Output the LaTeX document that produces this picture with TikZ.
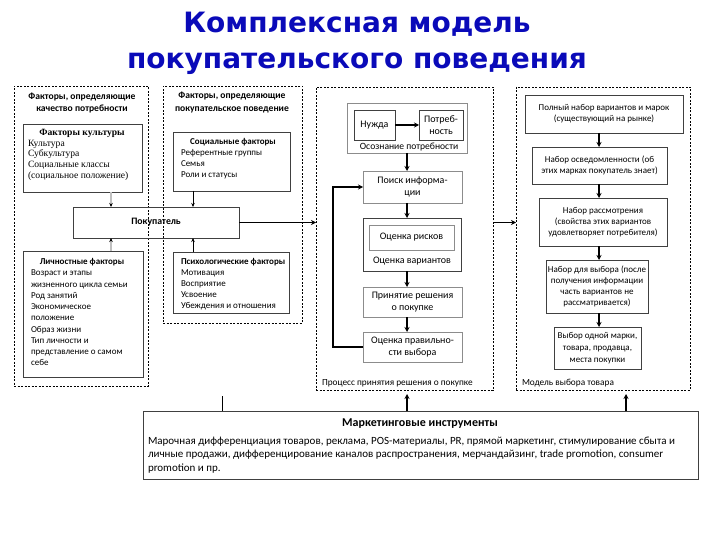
\documentclass[tikz,border=0pt]{standalone}
\usepackage{fontspec}
\setmainfont{Carlito}
\newfontfamily\titlefont{DejaVu Sans}
\newfontfamily\culturefont{Liberation Serif}
\usetikzlibrary{arrows.meta}
\definecolor{titleblue}{RGB}{10,10,185}
\newcommand\mkbox[7]{\node[#2, anchor=north west, minimum width={(#5-#3)*1pt}, minimum height={(#6-#4)*1pt}] (#1) at (#3,#4) {#7};}
\begin{document}
\begin{tikzpicture}[x=1pt,y=-1pt,
  every node/.style={inner sep=0pt, outer sep=0pt, font=\fontsize{9}{11}\selectfont, align=center},
  box/.style={draw=black!75, line width=0.8pt},
  gbox/.style={draw=black!45, line width=0.9pt},
  outer/.style={draw=black, line width=0.7pt, dash pattern=on 2pt off 1.5pt},
  arr/.style={-{Stealth[length=5pt,width=5pt]}, line width=1.6pt},
  tarr/.style={-{Stealth[length=4pt,width=3.5pt]}, line width=0.6pt},
  garr/.style={draw=black!25, line width=1.3pt, -{Stealth[length=4pt,width=3.5pt,black]}},
  lst/.style={align=left, anchor=west},
  mid/.style={font=\fontsize{10}{12}\selectfont},
  ttl/.style={font=\bfseries\fontsize{9.6}{12.5}\selectfont}
]
\useasboundingbox (0,0) rectangle (720,540);
% title
\node[font=\titlefont\bfseries\fontsize{28}{36}\selectfont, text=titleblue] (title) at (357,43) {Комплексная модель\\покупательского поведения};
% outer dashed frames
\mkbox{outerA}{outer}{14}{86}{148}{386}{}
\mkbox{outerB}{outer}{163}{86}{302}{323}{}
\mkbox{proc}{outer}{316}{87}{493}{390}{}
\mkbox{choice}{outer}{516}{87}{690}{390}{}
% left column
\node[ttl] (tA) at (82,103) {Факторы, определяющие\\качество потребности};
\node[ttl] (tB) at (232,102.5) {Факторы, определяющие\\покупательское поведение};
\mkbox{culture}{box}{23}{124}{142}{192}{}
\node[font=\culturefont\bfseries\fontsize{9.6}{11}\selectfont] (cultureT) at (82,133) {Факторы культуры};
\node[lst, font=\culturefont\fontsize{9.6}{10.7}\selectfont] (cultureL) at (28,160) {Культура\\Субкультура\\Социальные классы\\(социальное положение)};
\mkbox{social}{box}{173}{132}{290}{191}{}
\node[font=\bfseries\fontsize{9}{11}\selectfont] (socialT) at (233,142) {Социальные факторы};
\node[lst] (socialL) at (181,164) {Референтные группы\\Семья\\Роли и статусы};
\mkbox{buyer}{box}{73}{207}{239}{238}{\bfseries\fontsize{9.8}{12}\selectfont Покупатель}
\mkbox{personal}{box}{23}{251}{143}{377}{}
\node[font=\bfseries\fontsize{9}{11}\selectfont] (personalT) at (82,262) {Личностные факторы};
\node[lst, font=\fontsize{9}{11.25}\selectfont] (personalL) at (31,318) {Возраст и этапы\\жизненного цикла семьи\\Род занятий\\Экономическое\\положение\\Образ жизни\\Тип личности и\\представление о самом\\себе};
\mkbox{psych}{box}{173}{252}{289}{313}{}
\node[lst] (psychL) at (181,284) {\textbf{Психологические факторы}\\Мотивация\\Восприятие\\Усвоение\\Убеждения и отношения};
\coordinate (cA) at (111,0);
\coordinate (cB) at (193,0);
\draw[garr] (culture.south -| cA) -- (buyer.north -| cA);
\draw[garr] (personal.north -| cA) -- (buyer.south -| cA);
\draw[tarr] (social.south -| cB) -- (buyer.north -| cB);
\draw[tarr] (psych.north -| cB) -- (buyer.south -| cB);
\draw[arr] (buyer.east) -- (buyer.east -| proc.west);
% decision process
\mkbox{aware}{gbox}{347}{103}{467}{153}{}
\node[font=\fontsize{9.6}{12}\selectfont] (awareT) at (409,147.5) {Осознание потребности};
\mkbox{need}{box, mid}{354}{110}{395}{140}{Нужда}
\mkbox{want}{box, mid}{419}{110}{463}{140}{Потреб-\\ность}
\draw[arr] (need.east) -- (want.west);
\mkbox{search}{gbox, mid}{363}{171}{462}{203}{Поиск информа-\\ции}
\mkbox{alt}{box}{363}{218}{461}{271}{}
\mkbox{risk}{gbox, mid}{369}{225}{454}{250}{Оценка рисков}
\node[mid] (altT) at (412,261) {Оценка вариантов};
\mkbox{decide}{gbox, mid}{363}{287}{462}{317}{Принятие решения\\о покупке}
\mkbox{evalb}{gbox, mid}{363}{332}{462}{362}{Оценка правильно-\\сти выбора}
\coordinate (cC) at (407,0);
\draw[arr] (aware.south -| cC) -- (search.north -| cC);
\draw[arr] (search.south -| cC) -- (alt.north -| cC);
\draw[arr] (alt.south -| cC) -- (decide.north -| cC);
\draw[arr] (decide.south -| cC) -- (evalb.north -| cC);
\draw[arr] (evalb.west) -- ++(-30,0) |- (search.west);
\node[anchor=west, font=\fontsize{9.3}{11}\selectfont] (procT) at (322,383) {Процесс принятия решения о покупке};
\draw[arr] (proc.east |- buyer.east) -- (choice.west |- buyer.east);
% choice model
\mkbox{full}{box}{525}{95}{683}{133}{Полный набор вариантов и марок\\(существующий на рынке)}
\mkbox{known}{box}{532}{147}{667}{184}{Набор осведомленности (об\\этих марках покупатель знает)}
\mkbox{consider}{box}{539}{198}{667}{246}{Набор рассмотрения\\(свойства этих вариантов\\удовлетворяет потребителя)}
\mkbox{select}{box}{546}{260}{648}{313}{Набор для выбора (после\\получения информации\\часть вариантов не\\рассматривается)}
\mkbox{final}{box, font=\fontsize{9}{12}\selectfont}{554}{327}{641}{369}{Выбор одной марки,\\товара, продавца,\\места покупки}
\coordinate (cD) at (599,0);
\draw[arr] (full.south -| cD) -- (known.north -| cD);
\draw[arr] (known.south -| cD) -- (consider.north -| cD);
\draw[arr] (consider.south -| cD) -- (select.north -| cD);
\draw[arr] (select.south -| cD) -- (final.north -| cD);
\node[anchor=west, font=\fontsize{9.3}{11}\selectfont] (choiceT) at (522,383) {Модель выбора товара};
% marketing
\mkbox{mk}{box}{143}{411}{698}{479}{}
\node[font=\bfseries\fontsize{12}{14}\selectfont] (mkT) at (420,424) {Маркетинговые инструменты};
\node[lst, font=\fontsize{11}{13.5}\selectfont] (mkL) at (148,455) {Марочная дифференциация товаров, реклама, POS-материалы, PR, прямой маркетинг, стимулирование сбыта и\\личные продажи, дифференцирование каналов распространения, мерчандайзинг, trade promotion, consumer\\promotion и пр.};
\coordinate (m1) at (222,396);
\coordinate (m2) at (407,394);
\coordinate (m3) at (626,394);
\draw[line width=1pt] (mk.north -| m1) -- (m1);
\draw[arr] (mk.north -| m2) -- (m2);
\draw[arr] (mk.north -| m3) -- (m3);
\end{tikzpicture}
\end{document}
